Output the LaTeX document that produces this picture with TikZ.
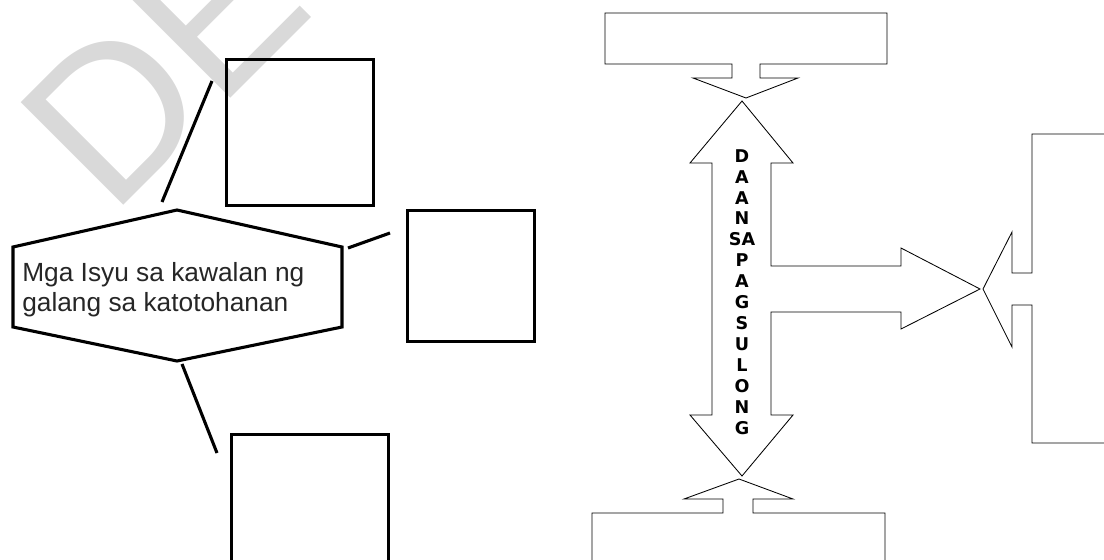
\documentclass[tikz,border=0pt]{standalone}
\usepackage{fontspec}
\setmainfont{Liberation Sans}
\newfontfamily\roadfont{DejaVu Sans}
\usetikzlibrary{positioning}

\begin{document}
\begin{tikzpicture}[x=0.025cm, y=-0.025cm,
    box/.style={rectangle, draw, line width=2.2pt, inner sep=0pt, anchor=north west},
    link/.style={line width=2.2pt},
    callout/.style={draw, line width=0.6pt, line join=miter},
    stamp/.style={text=black!15, font=\fontsize{150}{150}\selectfont, rotate=45, anchor=base west, inner sep=0pt}
]
    \useasboundingbox (0,0) rectangle (1104,559);
    % watermark
    \node[stamp] (stamp) at (111,218) {DE};

    % left: the issue and its three boxes
    \draw[link, line join=miter] (13,247) -- (177,210) -- (342,247) -- (342,327) -- (177,361) -- (13,327) -- cycle;
    \node[anchor=north west, align=left, inner sep=0pt, text=black!85,
          font=\fontsize{18.7}{21.3}\selectfont] (issue) at (22,262) {Mga Isyu sa kawalan ng\\galang sa katotohanan};

    \node[box, minimum width=3.675cm, minimum height=3.65cm] (boxa) at (225,58) {};
    \node[box, minimum width=3.175cm, minimum height=3.275cm] (boxb) at (406,209) {};
    \node[box, minimum width=3.925cm, minimum height=4.5cm] (boxc) at (230,433) {};

    \coordinate (linka) at (162,202);
    \coordinate (linkb) at (348,248);
    \coordinate (linkc) at (182,364);
    \coordinate (enda) at (212,81);
    \coordinate (endb) at (390,233);
    \coordinate (endc) at (217,453);
    \draw[link] (linka) -- (enda);
    \draw[link] (linkb) -- (endb);
    \draw[link] (linkc) -- (endc);

    % right: callouts round the road arrow
    \draw[callout] (605,13) -- (887,13) -- (887,64) -- (760,64) -- (760,78) -- (798,78) -- (746,98)
        -- (693,78) -- (732,78) -- (732,64) -- (605,64) -- cycle;
    \draw[callout] (742,101) -- (793,163) -- (771,163) -- (771,266) -- (901,266) -- (901,248) -- (980,289)
        -- (901,329) -- (901,312) -- (771,312) -- (771,415) -- (793,415) -- (742,476) -- (690,415)
        -- (712,415) -- (712,163) -- (690,163) -- cycle;
    \draw[callout] (1110,134) -- (1032,134) -- (1032,273) -- (1012,273) -- (1012,232) -- (983,289)
        -- (1012,347) -- (1012,305) -- (1032,305) -- (1032,443) -- (1110,443);
    \draw[callout] (592,570) -- (592,513) -- (723,513) -- (723,499) -- (684,499) -- (739,479)
        -- (793,499) -- (753,499) -- (753,513) -- (885,513) -- (885,570);

    \node[font=\roadfont\bfseries\fontsize{12.5}{14.9}\selectfont, align=center, inner sep=0pt] (road) at (742,292)
        {D\\A\\A\\N\\SA\\P\\A\\G\\S\\U\\L\\O\\N\\G};
\end{tikzpicture}
\end{document}
